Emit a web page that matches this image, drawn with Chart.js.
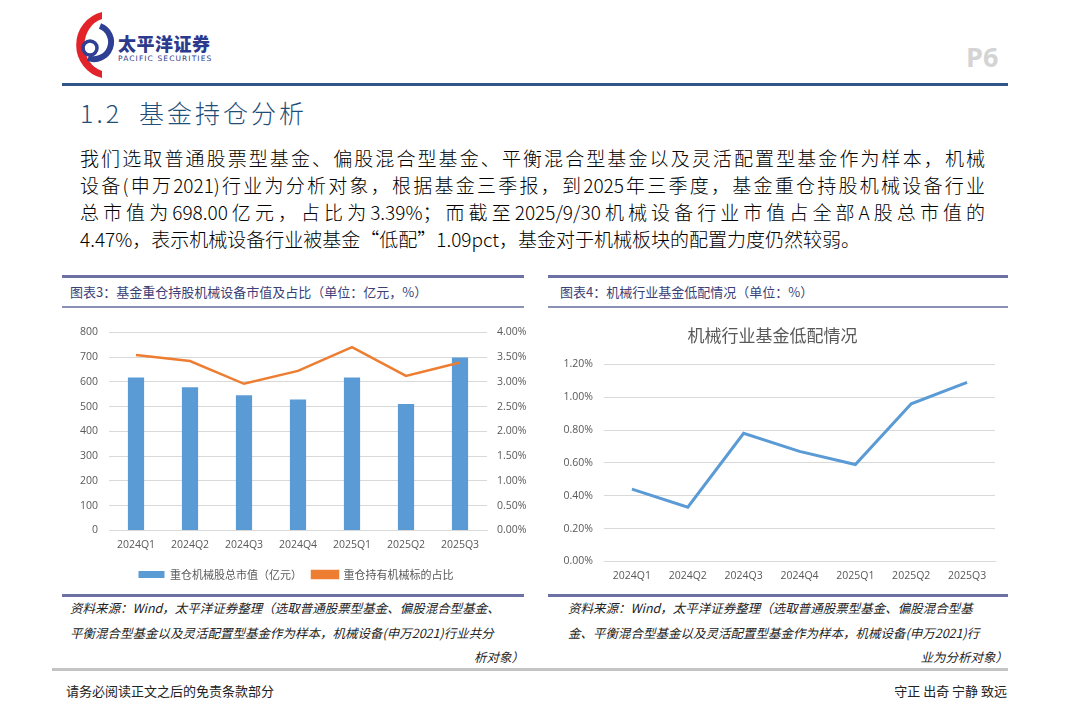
<!DOCTYPE html>
<html>
<head>
<meta charset="utf-8">
<script src="https://cdn.jsdelivr.net/npm/chart.js@4.4.1/dist/chart.umd.min.js"></script>
<style>
  html, body { margin: 0; padding: 0; background: #fff; }
  body { width: 1080px; height: 723px; position: relative; overflow: hidden;
         font-family: "Noto Sans CJK SC", "Noto Sans", sans-serif; }
  .abs { position: absolute; }
  .rule { position: absolute; height: 3px; }
  .para div { height: 27px; line-height: 27px; white-space: nowrap; }
  .cap { font-size: 13px; color: #3b3f78; white-space: nowrap; }
  .note { font-size: 12.5px; color: #222; font-style: italic; line-height: 24.5px; }
  .note div { white-space: nowrap; }
</style>
</head>
<body>
<!-- 页眉 -->
<svg class="abs" style="left:62px;top:10px" width="60" height="70" viewBox="0 0 60 70">
  <path d="M40 2 A34 34 0 0 0 40 68 L40 61 A24 27 0 0 1 40 9 Z" fill="#e2232a"/>
  <path d="M38 16 A15 15 0 1 1 26 48" fill="none" stroke="#2e3f94" stroke-width="6"/>
  <circle cx="28" cy="38" r="7" fill="none" stroke="#2e3f94" stroke-width="3.5"/>
</svg>
<div class="abs" style="left:118px;top:30px;font-size:18px;font-weight:900;color:#2b3a8c;letter-spacing:0.5px">太平洋证券</div>
<div class="abs" style="left:118px;top:54px;font-size:7.5px;color:#2b3a8c;letter-spacing:1.1px;font-family:'DejaVu Sans'">PACIFIC SECURITIES</div>
<div class="abs" style="left:966px;top:38px;font-size:27px;font-weight:bold;color:#d4d4d4;font-family:'Open Sans'">P6</div>
<div class="rule" style="left:62px;top:83px;width:946px;background:#2f5689"></div>

<div class="abs" style="left:80px;top:94px;font-size:25px;font-weight:300;color:#1f4e79;white-space:nowrap;letter-spacing:3px">1.2&nbsp;&nbsp;基金持仓分析</div>

<div class="abs para" style="left:80px;top:144px;width:905px;font-size:19px;font-weight:300;color:#000">
  <div style="text-align:justify;text-align-last:justify">我们选取普通股票型基金、偏股混合型基金、平衡混合型基金以及灵活配置型基金作为样本，机械</div>
  <div style="text-align:justify;text-align-last:justify">设备(申万2021)行业为分析对象，根据基金三季报，到2025年三季度，基金重仓持股机械设备行业</div>
  <div style="text-align:justify;text-align-last:justify">总市值为698.00亿元，占比为3.39%；而截至2025/9/30机械设备行业市值占全部A股总市值的</div>
  <div>4.47%，表示机械设备行业被基金“低配”1.09pct，基金对于机械板块的配置力度仍然较弱。</div>
</div>

<!-- 图表标题 -->
<div class="rule" style="left:62px;top:275px;width:462px;background:#6d71a3"></div>
<div class="rule" style="left:548px;top:275px;width:460px;background:#6d71a3"></div>
<div class="abs cap" style="left:70px;top:282px">图表3：基金重仓持股机械设备市值及占比（单位：亿元，%）</div>
<div class="abs cap" style="left:560px;top:282px">图表4：机械行业基金低配情况（单位：%）</div>
<div class="rule" style="left:62px;top:306px;width:462px;height:2px;background:#8c8fb6"></div>
<div class="rule" style="left:548px;top:306px;width:460px;height:2px;background:#8c8fb6"></div>

<div class="abs" style="left:62px;top:315px;width:468px;height:275px"><canvas id="c1"></canvas></div>
<div class="abs" style="left:550px;top:315px;width:460px;height:275px"><canvas id="c2"></canvas></div>

<div class="rule" style="left:62px;top:594px;width:462px;background:#6d71a3"></div>
<div class="rule" style="left:548px;top:594px;width:460px;background:#6d71a3"></div>

<div class="abs note" style="left:70px;top:596px;width:454px">
  <div>资料来源：Wind，太平洋证券整理（选取普通股票型基金、偏股混合型基金、</div>
  <div>平衡混合型基金以及灵活配置型基金作为样本，机械设备(申万2021)行业共分</div>
  <div style="text-align:right">析对象）</div>
</div>
<div class="abs note" style="left:568px;top:596px;width:440px">
  <div>资料来源：Wind，太平洋证券整理（选取普通股票型基金、偏股混合型基</div>
  <div>金、平衡混合型基金以及灵活配置型基金作为样本，机械设备(申万2021)行</div>
  <div style="text-align:right">业为分析对象）</div>
</div>

<div class="rule" style="left:52px;top:668px;width:956px;background:#c4c4c4"></div>
<div class="abs" style="left:66px;top:681px;font-size:13px;color:#222">请务必阅读正文之后的免责条款部分</div>
<div class="abs" style="left:860px;top:681px;width:147px;text-align:right;font-size:13px;color:#222;white-space:nowrap">守正 出奇 宁静 致远</div>

<script>
const quarters = ["2024Q1", "2024Q2", "2024Q3", "2024Q4", "2025Q1", "2025Q2", "2025Q3"];
// 图表3
const heavyValue = [617, 578, 546, 529, 617, 510, 698];          // 重仓机械股总市值（亿元）
const heavyShare = [3.54, 3.42, 2.96, 3.22, 3.70, 3.12, 3.39];   // 重仓持有机械标的占比（%）
// 图表4
const underweight = [0.44, 0.33, 0.78, 0.67, 0.59, 0.96, 1.09];  // 低配（%）

const tickFont = { family: "'Open Sans', 'Noto Sans'", size: 10.5 };
const grey = "#595959";
const gridColor = "#d9d9d9";

new Chart("c1", {
    type: "bar",
    data: {
        labels: quarters,
        datasets: [{
            label: "重仓机械股总市值（亿元）",
            data: heavyValue,
            backgroundColor: "#5b9bd5",
            categoryPercentage: 1,
            barPercentage: 0.3,
            yAxisID: "y",
            order: 2
        }, {
            type: "line",
            label: "重仓持有机械标的占比",
            data: heavyShare,
            borderColor: "#ed7d31",
            backgroundColor: "#ed7d31",
            borderWidth: 2.5,
            pointRadius: 0,
            tension: 0,
            yAxisID: "y1",
            order: 1
        }]
    },
    options: {
        animation: false,
        responsive: true,
        maintainAspectRatio: false,
        layout: { padding: { top: 2, bottom: 0 } },
        plugins: {
            legend: {
                position: "bottom",
                labels: {
                    boxWidth: 26, boxHeight: 7, padding: 10, color: grey,
                    font: { family: "'Noto Sans CJK SC'", size: 11 },
                    sort: (a, b) => a.datasetIndex - b.datasetIndex
                }
            },
            tooltip: { enabled: false }
        },
        scales: {
            x: {
                grid: { display: false, drawTicks: false },
                border: { color: gridColor },
                ticks: { color: grey, font: tickFont, padding: 8 }
            },
            y: {
                min: 0, max: 800,
                ticks: { stepSize: 100, color: grey, font: tickFont, padding: 11 },
                grid: { color: gridColor, drawTicks: false },
                border: { display: false },
                afterFit: (s) => { s.width = 47; }
            },
            y1: {
                position: "right",
                min: 0, max: 4,
                ticks: { stepSize: 0.5, color: grey, font: tickFont, padding: 10,
                         callback: (v) => v.toFixed(2) + "%" },
                grid: { display: false, drawTicks: false },
                border: { display: false },
                afterFit: (s) => { s.width = 43; }
            }
        }
    }
});

new Chart("c2", {
    type: "line",
    data: {
        labels: quarters,
        datasets: [{
            label: "低配",
            data: underweight,
            borderColor: "#5b9bd5",
            borderWidth: 3,
            pointRadius: 0,
            tension: 0
        }]
    },
    options: {
        animation: false,
        responsive: true,
        maintainAspectRatio: false,
        layout: { padding: { right: 15, bottom: 0 } },
        plugins: {
            legend: { display: false },
            title: {
                display: true,
                text: "机械行业基金低配情况",
                color: grey,
                font: { family: "'Noto Sans CJK SC'", size: 17, weight: "normal" },
                padding: { top: 10, bottom: 19 }
            },
            tooltip: { enabled: false }
        },
        scales: {
            x: {
                offset: true,
                grid: { display: false, drawTicks: false },
                border: { color: gridColor },
                ticks: { color: grey, font: tickFont, padding: 8 }
            },
            y: {
                min: 0, max: 1.2,
                ticks: { stepSize: 0.2, color: grey, font: tickFont, padding: 11,
                         callback: (v) => v.toFixed(2) + "%" },
                grid: { color: gridColor, drawTicks: false },
                border: { display: false },
                afterFit: (s) => { s.width = 54; }
            }
        }
    }
});
</script>
</body>
</html>
